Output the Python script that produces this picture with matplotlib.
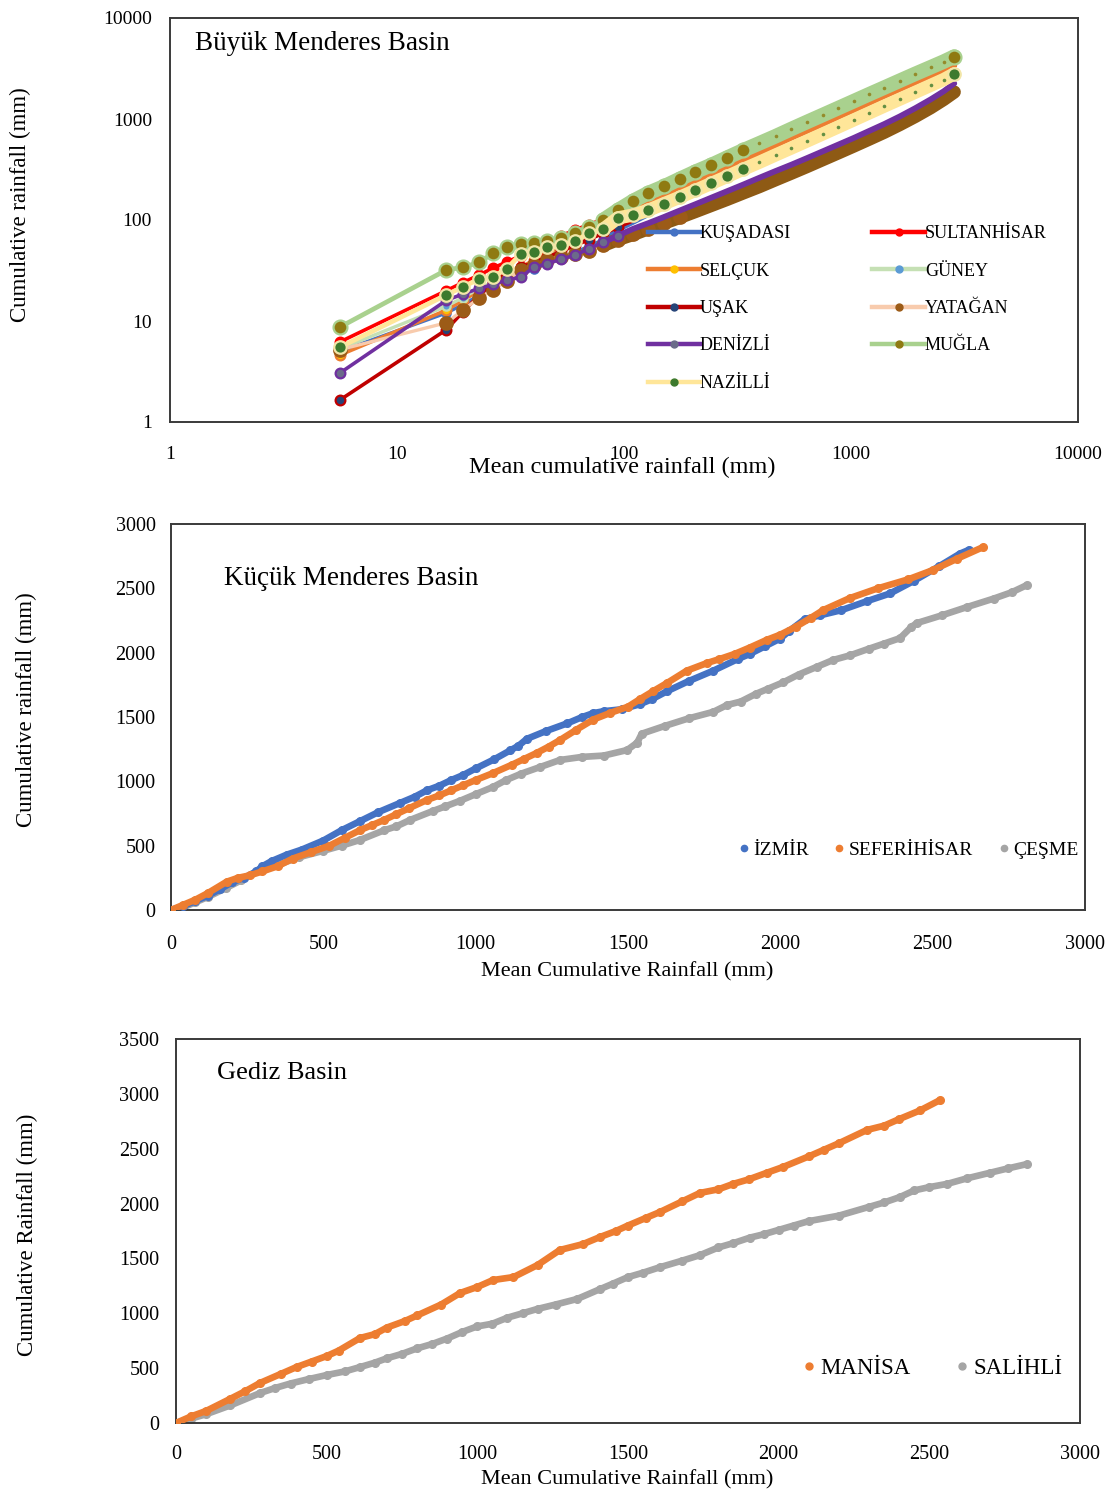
import matplotlib
matplotlib.use("Agg")
import matplotlib.pyplot as plt
from matplotlib.ticker import NullLocator, FixedLocator
from matplotlib.lines import Line2D

plt.rcParams['font.family'] = ['Liberation Serif', 'DejaVu Serif']

# ---------------- Panel 1 : Büyük Menderes (log-log) ----------------
bm_x = [5.6, 16.5, 19.5, 23, 26.5, 30.5, 35, 40, 46, 53, 61, 70, 81, 94, 110, 128, 150, 176,
        206, 242, 285, 335, 395, 465, 545, 640, 750, 880, 1030, 1200, 1400, 1640, 1920, 2240, 2560, 2850]
bm_kusadasi = [5.0, 12, 14.5, 18, 22, 26, 30, 33, 37, 42, 48, 55, 64, 80, 95, 113, 135, 163, 196, 230,
               271, 318, 375, 442, 518, 608, 712, 836, 978, 1140, 1330, 1560, 1825, 2130, 2430, 2710]
bm_selcuk = [4.6, 12.8, 16, 20, 24, 29, 34, 40, 46, 53, 62, 72, 84, 100, 120, 145, 170, 202, 238, 282,
             330, 390, 465, 550, 650, 760, 890, 1050, 1230, 1440, 1690, 1980, 2320, 2700, 3080, 3400]
bm_usak = [1.65, 8.2, 12.3, 18, 24, 30, 34, 38, 43, 49, 56, 64, 74, 86, 100, 117, 137, 160, 187, 219,
           257, 302, 355, 418, 490, 575, 675, 792, 928, 1082, 1262, 1478, 1730, 2020, 2310, 2570]
bm_denizli = [3.05, 16, 18.5, 21, 23, 25.5, 27, 34, 37, 41, 45, 52, 60, 70, 82, 93, 107, 124, 143, 166,
              193, 224, 262, 305, 352, 410, 478, 558, 650, 760, 890, 1060, 1280, 1560, 1880, 2250]
bm_nazilli = [5.5, 18.1, 21.8, 26, 27.5, 33, 46, 48, 54, 56, 62, 74, 81, 105, 112, 125, 145, 168, 196, 230,
              270, 318, 373, 440, 515, 605, 710, 835, 980, 1145, 1340, 1570, 1840, 2150, 2460, 2800]
bm_sultanhisar = [6.2, 20, 24, 28.5, 33.5, 38.5, 44, 50, 58, 70, 80, 90, 102, 120, 145, 170, 200, 232, 268, 312,
                  362, 422, 492, 575, 672, 785, 915, 1070, 1250, 1455, 1700, 1990, 2320, 2700, 3080, 3420]
bm_guney = [5.3, 14, 17, 21, 24.5, 28, 32, 37, 43, 50, 58, 67, 78, 91, 107, 125, 147, 173, 203, 238,
            280, 330, 389, 458, 537, 630, 739, 867, 1015, 1183, 1380, 1617, 1893, 2208, 2524, 2810]
bm_yatagan = [5.2, 9.6, 12.8, 16.9, 20.3, 25, 32, 36, 40, 43, 46, 49, 56, 64, 72, 82, 93, 106, 121, 139,
              160, 185, 214, 250, 290, 338, 395, 462, 540, 630, 738, 880, 1060, 1290, 1560, 1850]
bm_mugla = [8.7, 32, 34, 38, 47, 54, 58, 59, 62, 66, 75, 86, 100, 125, 155, 185, 215, 255, 300, 350,
            415, 490, 575, 675, 795, 935, 1095, 1285, 1505, 1755, 2045, 2395, 2800, 3250, 3700, 4150]
bm_names = ["KUŞADASI", "SELÇUK", "UŞAK", "DENİZLİ", "NAZİLLİ",
            "SULTANHİSAR", "GÜNEY", "YATAĞAN", "MUĞLA"]
log_ticks = [1, 10, 100, 1000, 10000]
log_tick_labels = ["1", "10", "100", "1000", "10000"]

# ---------------- Panel 2 : Küçük Menderes ----------------
km_izmir_x = [0, 40, 80, 120, 160, 200, 240, 280, 300, 330, 380, 430, 500, 560, 620, 680, 750, 800, 840, 880,
              920, 960, 1000, 1060, 1113, 1140, 1168, 1230, 1300, 1350, 1386, 1420, 1480, 1540, 1580, 1628,
              1700, 1780, 1860, 1900, 1950, 2000, 2030, 2080, 2130, 2200, 2284, 2360, 2440, 2520, 2590, 2620]
km_izmir_y = [0, 30, 70, 110, 160, 215, 250, 300, 340, 380, 430, 470, 540, 620, 690, 760, 830, 880, 930, 965,
              1010, 1050, 1100, 1170, 1240, 1275, 1330, 1390, 1450, 1500, 1530, 1545, 1560, 1600, 1640, 1700,
              1780, 1860, 1950, 1990, 2050, 2110, 2170, 2260, 2290, 2330, 2400, 2460, 2560, 2670, 2770, 2800]
km_seferihisar_x = [0, 40, 80, 120, 183, 220, 260, 300, 350, 400, 460, 520, 570, 620, 660, 700, 740, 780, 840, 880,
                    920, 960, 1000, 1057, 1120, 1160, 1200, 1240, 1277, 1330, 1386, 1440, 1500, 1540, 1582, 1628,
                    1693, 1760, 1800, 1850, 1900, 1956, 2000, 2050, 2100, 2140, 2228, 2320, 2420, 2501, 2580, 2665]
km_seferihisar_y = [0, 40, 80, 130, 220, 250, 270, 300, 340, 400, 450, 500, 560, 620, 660, 700, 745, 790, 855, 890,
                    930, 970, 1010, 1064, 1130, 1175, 1220, 1270, 1321, 1400, 1480, 1530, 1580, 1640, 1700, 1764,
                    1860, 1920, 1950, 1990, 2040, 2100, 2140, 2200, 2270, 2330, 2424, 2500, 2570, 2642, 2730, 2820]
km_cesme_x = [0, 40, 80, 120, 180, 230, 292, 350, 420, 500, 560, 620, 700, 740, 784, 860, 900, 950, 1000, 1057,
              1100, 1150, 1210, 1277, 1350, 1420, 1497, 1530, 1545, 1620, 1700, 1780, 1825, 1870, 1920, 1960,
              2010, 2060, 2120, 2173, 2230, 2290, 2340, 2393, 2430, 2448, 2530, 2612, 2700, 2760, 2809]
km_cesme_y = [0, 20, 60, 100, 170, 230, 311, 350, 410, 460, 500, 544, 620, 650, 699, 770, 805, 850, 900, 956,
              1010, 1060, 1110, 1166, 1190, 1200, 1243, 1300, 1370, 1430, 1490, 1540, 1593, 1620, 1680, 1720,
              1770, 1830, 1890, 1943, 1980, 2030, 2070, 2113, 2200, 2230, 2290, 2354, 2420, 2470, 2525]
km_names = ["İZMİR", "SEFERİHİSAR", "ÇEŞME"]
lin_ticks_2 = [0, 500, 1000, 1500, 2000, 2500, 3000]

# ---------------- Panel 3 : Gediz ----------------
gd_manisa_x = [0, 50, 100, 180, 230, 279, 350, 400, 450, 500, 540, 611, 660, 700, 760, 800, 880, 943, 1000, 1052,
               1120, 1200, 1274, 1350, 1407, 1460, 1500, 1560, 1606, 1680, 1739, 1800, 1850, 1900, 1960, 2015,
               2100, 2150, 2200, 2293, 2350, 2400, 2470, 2536]
gd_manisa_y = [0, 60, 110, 220, 290, 365, 450, 510, 560, 610, 660, 775, 810, 870, 930, 980, 1080, 1185, 1240, 1303,
               1330, 1440, 1577, 1630, 1695, 1750, 1800, 1870, 1923, 2020, 2097, 2130, 2180, 2220, 2280, 2334,
               2430, 2490, 2550, 2671, 2710, 2770, 2850, 2944]
gd_salihli_x = [0, 50, 100, 180, 279, 330, 380, 440, 500, 560, 611, 660, 700, 750, 800, 850, 900, 950, 999, 1050,
                1100, 1150, 1200, 1260, 1331, 1407, 1450, 1500, 1550, 1606, 1680, 1739, 1800, 1850, 1905, 1950,
                2000, 2050, 2100, 2200, 2300, 2350, 2403, 2450, 2500, 2560, 2625, 2700, 2760, 2824]
gd_salihli_y = [0, 40, 80, 160, 273, 320, 360, 400, 437, 470, 510, 550, 590, 630, 680, 720, 770, 830, 880, 905,
                960, 1000, 1040, 1080, 1130, 1220, 1270, 1330, 1370, 1420, 1480, 1530, 1600, 1640, 1690, 1720,
                1760, 1800, 1840, 1890, 1970, 2010, 2060, 2120, 2150, 2180, 2230, 2280, 2320, 2360]
gd_names = ["MANİSA", "SALİHLİ"]
lin_ticks_3y = [0, 500, 1000, 1500, 2000, 2500, 3000, 3500]

# ---------------- Figure ----------------
W, H = 1114, 1497
fig = plt.figure(figsize=(W / 100, H / 100), dpi=100)


def px_axes(l, t, r, b):
    return fig.add_axes([l / W, 1 - b / H, (r - l) / W, (b - t) / H])


frame_col = '#3a3a3a'


def style_frame(ax):
    for s in ax.spines.values():
        s.set_color(frame_col)
        s.set_linewidth(1.4)
    ax.tick_params(length=0)


# ---- panel 1
ax1 = px_axes(170, 18, 1078, 422)
style_frame(ax1)
ax1.set_xscale('log')
ax1.set_yscale('log')
ax1.set_xlim(1, 10000)
ax1.set_ylim(1, 10000)

# k: index up to which the individual markers stay visible
styles = {
    "KUŞADASI": dict(color='#4472C4', mfc='#4472C4', mec='#4472C4', ms=6, lw=2.4, band='#4472C4', bw=3.4,
                     speck=None, k=14, z=2),
    "SULTANHİSAR": dict(color='#FF0000', mfc='#FF0000', mec='#FF0000', ms=7, lw=2.6, band='#FF0000', bw=4.2,
                        speck=None, k=14, z=3),
    "SELÇUK": dict(color='#ED7D31', mfc='#FFC000', mec='#ED7D31', ms=7, lw=2.6, band='#ED7D31', bw=4.2,
                   speck=None, k=14, z=4),
    "GÜNEY": dict(color='#C5E0B4', mfc='#5B9BD5', mec='#C5E0B4', ms=6, lw=2.4, band='#C5E0B4', bw=3.4,
                  speck=None, k=14, z=5),
    "UŞAK": dict(color='#C00000', mfc='#264478', mec='#C00000', ms=7, lw=2.6, band='#C00000', bw=3.4,
                 speck=None, k=14, z=6),
    "YATAĞAN": dict(color='#F8CBAD', mfc='#9C5B17', mec='#9C5B17', ms=9, lw=2.4, band='#8E5A14', bw=9.5,
                    speck=None, k=18, z=7),
    "DENİZLİ": dict(color='#7030A0', mfc='#6B6B8A', mec='#7030A0', ms=7, lw=2.6, band='#7030A0', bw=4.2,
                    speck=None, k=14, z=8),
    "MUĞLA": dict(color='#A9D18E', mfc='#8F7A12', mec='#A9D18E', ms=10, lw=3.4, band='#A9D18E', bw=10.5,
                  speck='#8F7A12', k=22, z=9),
    "NAZİLLİ": dict(color='#FFE699', mfc='#3D7A2E', mec='#F2E6A8', ms=9, lw=3.4, band='#FFE699', bw=9.5,
                    speck='#3D7A2E', k=22, z=10),
}
series = {
    "KUŞADASI": bm_kusadasi, "SELÇUK": bm_selcuk, "UŞAK": bm_usak, "DENİZLİ": bm_denizli,
    "NAZİLLİ": bm_nazilli, "SULTANHİSAR": bm_sultanhisar, "GÜNEY": bm_guney,
    "YATAĞAN": bm_yatagan, "MUĞLA": bm_mugla,
}
k_band = 13  # from here on the daily points are so close that they form a band
handles = []
for name in bm_names:
    st = styles[name]
    ys = series[name]
    z = st['z']
    k = st['k']
    ax1.plot(bm_x, ys, color=st['color'], lw=st['lw'], zorder=z)
    ax1.plot(bm_x[k_band - 1:], ys[k_band - 1:], color=st['band'], lw=st['bw'],
             solid_capstyle='round', solid_joinstyle='round', zorder=z)
    ax1.plot(bm_x[:k], ys[:k], ls='none', marker='o', ms=st['ms'],
             mfc=st['mfc'], mec=st['mec'], mew=1.6, zorder=z + 0.1)
    if st['speck']:
        ax1.plot(bm_x[k:], ys[k:], ls='none', marker='o', ms=2.6,
                 mfc=st['speck'], mec='none', alpha=0.8, zorder=z + 0.1)
    handles.append(Line2D([], [], color=st['color'], lw=3.2, marker='o', ms=5,
                          mfc=st['mfc'], mec=st['mfc']))
# end markers
ax1.plot([bm_x[-1]], [bm_mugla[-1]], ls='none', marker='o', ms=10, mfc='#8F7A12', mec='#A9D18E',
         mew=1.6, zorder=11)
ax1.plot([bm_x[-1]], [bm_nazilli[-1]], ls='none', marker='o', ms=9, mfc='#3D7A2E', mec='#F2E6A8',
         mew=1.6, zorder=11)

ax1.xaxis.set_major_locator(FixedLocator(log_ticks))
ax1.yaxis.set_major_locator(FixedLocator(log_ticks))
ax1.xaxis.set_minor_locator(NullLocator())
ax1.yaxis.set_minor_locator(NullLocator())
ax1.set_xticklabels(log_tick_labels)
ax1.set_yticklabels(log_tick_labels)
ax1.tick_params(axis='x', pad=17, labelsize=14)
ax1.tick_params(axis='y', pad=13, labelsize=14)
ax1.set_xlabel("Mean cumulative rainfall (mm)", fontsize=17.5)
ax1.xaxis.set_label_coords(0.498, -0.112)
ax1.xaxis.label.set_va('center')
ax1.set_ylabel("Cumulative rainfall (mm)", fontsize=16.5)
ax1.yaxis.set_label_coords(-0.165, 0.537)
ax1.yaxis.label.set_va('center')
ax1.text(0.0275, 0.936, "Büyük Menderes Basin", transform=ax1.transAxes, fontsize=19.5,
         ha='left', va='center')
leg1 = ax1.legend(handles, bm_names, ncol=2, loc='upper left', bbox_to_anchor=(0.526, 0.487),
                  frameon=False, fontsize=13, handlelength=2.9, handletextpad=0.0,
                  labelspacing=1.13, columnspacing=4.5, borderpad=0, borderaxespad=0)
leg1.set_zorder(20)

# ---- panel 2
ax2 = px_axes(171, 524, 1085, 910)
style_frame(ax2)
ax2.set_xlim(0, 3000)
ax2.set_ylim(0, 3000)
c_blue, c_orange, c_gray = '#4472C4', '#ED7D31', '#A5A5A5'
for xs, ys, c, z in [(km_cesme_x, km_cesme_y, c_gray, 2), (km_izmir_x, km_izmir_y, c_blue, 3),
                     (km_seferihisar_x, km_seferihisar_y, c_orange, 4)]:
    ax2.plot(xs, ys, color=c, lw=4.8, marker='o', ms=5.5, mec=c, zorder=z,
             solid_joinstyle='round', solid_capstyle='round')
h2 = [Line2D([], [], ls='none', marker='o', ms=4.5, color=c) for c in (c_blue, c_orange, c_gray)]
ax2.legend(h2, km_names, ncol=3, loc='center right', bbox_to_anchor=(0.993, 0.155), frameon=False,
           fontsize=14, handlelength=0.5, handletextpad=0.25, columnspacing=1.3,
           borderpad=0, borderaxespad=0)
ax2.set_xticks(lin_ticks_2)
ax2.set_yticks(lin_ticks_2)
ax2.tick_params(axis='x', pad=18, labelsize=14.5)
ax2.tick_params(axis='y', pad=11, labelsize=14.5)
ax2.set_xlabel("Mean Cumulative Rainfall (mm)", fontsize=16)
ax2.xaxis.set_label_coords(0.499, -0.161)
ax2.xaxis.label.set_va('center')
ax2.set_ylabel("Cumulative rainfall (mm)", fontsize=16.5)
ax2.yaxis.set_label_coords(-0.158, 0.518)
ax2.yaxis.label.set_va('center')
ax2.text(0.058, 0.860, "Küçük Menderes Basin", transform=ax2.transAxes, fontsize=19.5,
         ha='left', va='center')

# ---- panel 3
ax3 = px_axes(176, 1039, 1080, 1423)
style_frame(ax3)
ax3.set_xlim(0, 3000)
ax3.set_ylim(0, 3500)
for xs, ys, c, z in [(gd_salihli_x, gd_salihli_y, c_gray, 2), (gd_manisa_x, gd_manisa_y, c_orange, 3)]:
    ax3.plot(xs, ys, color=c, lw=4.8, marker='o', ms=5.5, mec=c, zorder=z,
             solid_joinstyle='round', solid_capstyle='round')
h3 = [Line2D([], [], ls='none', marker='o', ms=5, color=c) for c in (c_orange, c_gray)]
ax3.legend(h3, gd_names, ncol=2, loc='center right', bbox_to_anchor=(0.981, 0.143), frameon=False,
           fontsize=16.5, handlelength=0.5, handletextpad=0.25, columnspacing=2.0,
           borderpad=0, borderaxespad=0)
ax3.set_xticks(lin_ticks_2)
ax3.set_yticks(lin_ticks_3y)
ax3.tick_params(axis='x', pad=16, labelsize=14.5)
ax3.tick_params(axis='y', pad=12, labelsize=14.5)
ax3.set_xlabel("Mean Cumulative Rainfall (mm)", fontsize=16)
ax3.xaxis.set_label_coords(0.499, -0.148)
ax3.xaxis.label.set_va('center')
ax3.set_ylabel("Cumulative Rainfall (mm)", fontsize=16.5)
ax3.yaxis.set_label_coords(-0.164, 0.49)
ax3.yaxis.label.set_va('center')
ax3.text(0.045, 0.911, "Gediz Basin", transform=ax3.transAxes, fontsize=19,
         ha='left', va='center')

fig.savefig("out.png", dpi=100, facecolor='white')
